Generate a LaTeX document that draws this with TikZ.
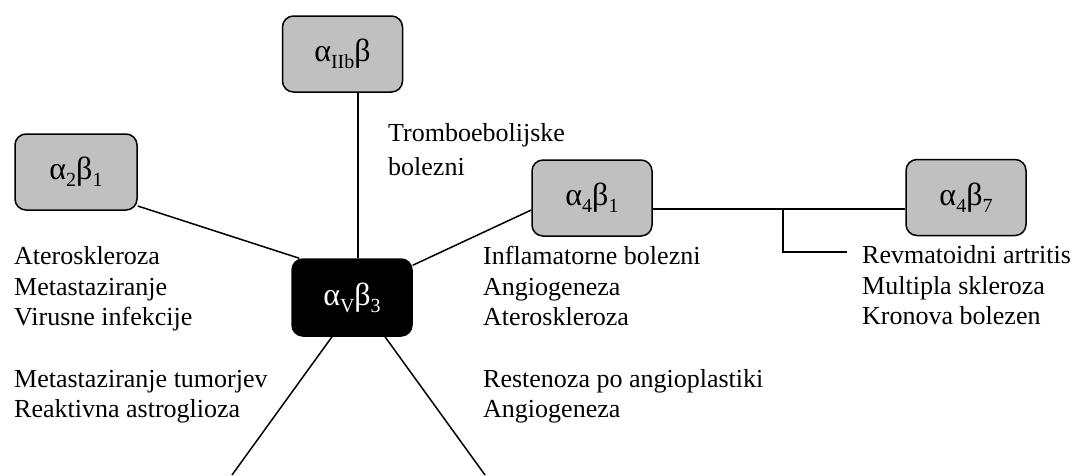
\documentclass[tikz,border=0pt]{standalone}
\usepackage{fontspec}
\setmainfont{Liberation Serif}
\definecolor{boxgray}{RGB}{192,192,192}
% lowered index inside the integrin labels
\newcommand{\ix}[1]{\raisebox{-0.22em}{\fontsize{20}{20}\selectfont #1}}
\tikzset{
  gbox/.style={draw=black, line width=1.5pt, fill=boxgray, rounded corners=11pt,
    minimum width=120pt, minimum height=76pt, inner sep=0pt,
    font=\fontsize{32}{32}\selectfont, text height=21pt, text depth=6pt},
  kbox/.style={gbox, fill=black, text=white},
  link/.style={line width=1.5pt},
  txt/.style={anchor=base west, inner sep=0pt, font=\fontsize{26}{30}\selectfont}
}
\begin{document}
\begin{tikzpicture}[x=1pt,y=-1pt]
\useasboundingbox (0,0) rectangle (1076,475);

% integrin boxes
\node[gbox] (IIb) at (342.5,54) {α\ix{IIb}β};
\node[gbox, minimum width=122pt] (a2b1) at (76,172) {α\ix{2}β\ix{1}};
\node[gbox] (a4b1) at (592,198) {α\ix{4}β\ix{1}};
\node[gbox] (a4b7) at (966,197.5) {α\ix{4}β\ix{7}};
\node[kbox, minimum height=77pt] (avb3) at (352,297.5) {α\ix{V}β\ix{3}};

% free ends and bends of the connectors
\coordinate (split) at (783,209);
\coordinate (splitend) at (847,252);
\coordinate (legL) at (232,475);
\coordinate (legR) at (485,475);

% connectors
\draw[link] ([xshift=15.5pt]IIb.south) -- ([xshift=6pt]avb3.north);
\draw[link] ([yshift=-34pt]a2b1.east) -- ([xshift=8pt]avb3.north west);
\draw[link] ([yshift=-12pt]a4b1.west) -- ([yshift=-7pt]avb3.north east);
\draw[link] ([yshift=-11pt]a4b1.east) coordinate (hl) -- (hl -| a4b7.west);
\draw[link] (split) |- (splitend);
\draw[link] ([xshift=-20pt]avb3.south) -- (legL);
\draw[link] ([xshift=33pt]avb3.south) -- (legR);

% disease lists
\node[txt] (tr1) at (388,141) {Tromboebolijske};
\node[txt] (tr2) at (388,175) {bolezni};

\node[txt] (l1) at (14,264.5) {Ateroskleroza};
\node[txt] (l2) at (14,295) {Metastaziranje};
\node[txt] (l3) at (14,325.5) {Virusne infekcije};
\node[txt] (l4) at (14,387) {Metastaziranje tumorjev};
\node[txt] (l5) at (14,417.5) {Reaktivna astroglioza};

\node[txt] (r1) at (483,264.5) {Inflamatorne bolezni};
\node[txt] (r2) at (483,295) {Angiogeneza};
\node[txt] (r3) at (483,325.5) {Ateroskleroza};
\node[txt] (r4) at (483,387) {Restenoza po angioplastiki};
\node[txt] (r5) at (483,417.5) {Angiogeneza};

\node[txt] (f1) at (862,263.5) {Revmatoidni artritis};
\node[txt] (f2) at (862,294) {Multipla skleroza};
\node[txt] (f3) at (862,324.5) {Kronova bolezen};
\end{tikzpicture}
\end{document}
